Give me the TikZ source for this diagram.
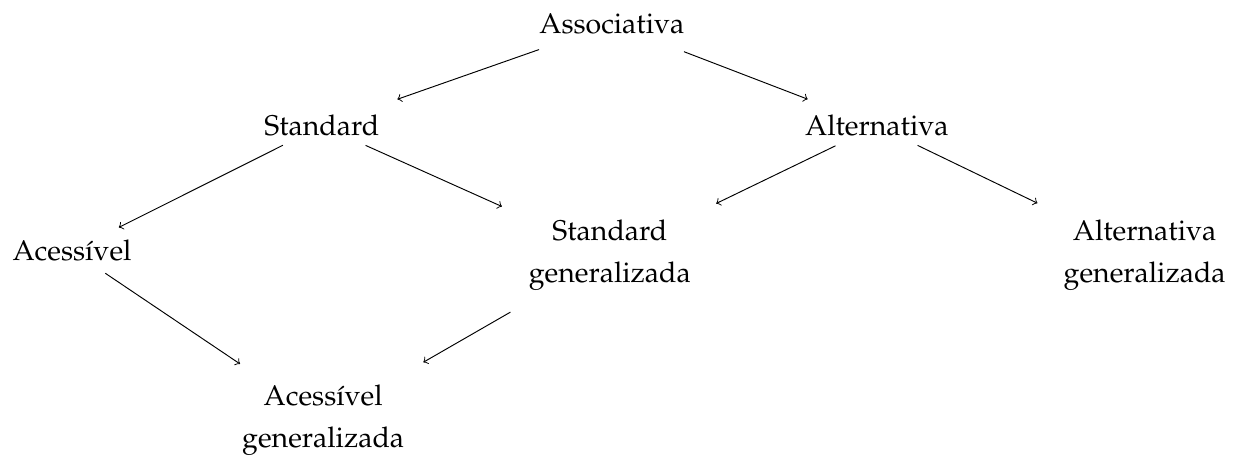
\documentclass[tikz,border=0pt,12pt]{standalone}
\usepackage[T1]{fontenc}
\usepackage{mathpazo}
\usetikzlibrary{arrows}

\begin{document}
\begin{tikzpicture}
\tikzset{every node/.style={align=center,font=\fontsize{12}{17.6}\selectfont}}
\tikzset{every path/.append style={->}}

\useasboundingbox (0,0) rectangle (18.34,-6.86);

\node (assoc) at (9.05,-0.355) {Associativa};
\node (std) at (4.76,-1.86) {Standard};
\node (alt) at (12.97,-1.86) {Alternativa};
\node (acc) at (1.065,-3.71) {Acess\'{\i}vel};
\node (stdgen) at (9.02,-3.77) {Standard\\generalizada};
\node (altgen) at (16.93,-3.77) {Alternativa\\generalizada};
\node (accgen) at (4.78,-6.21) {Acess\'{\i}vel\\generalizada};

\draw[shorten <=32.5pt,shorten >=33.7pt] (assoc.center) -- (std.center);
\draw[shorten <=32.5pt,shorten >=31.2pt] (assoc.center) -- (alt.center);
\draw[shorten <=18.3pt,shorten >=22pt] (std.center) -- (acc.center);
\draw[shorten <=20.2pt,shorten >=49.8pt] (std.center) -- (stdgen.center);
\draw[shorten <=19.4pt,shorten >=49.7pt] (alt.center) -- (stdgen.center);
\draw[shorten <=19pt,shorten >=50.1pt] (alt.center) -- (altgen.center);
\draw[shorten <=16.9pt,shorten >=42.2pt] (acc.center) -- (accgen.center);
\draw[shorten <=48.3pt,shorten >=48.6pt] (stdgen.center) -- (accgen.center);

\end{tikzpicture}
\end{document}
